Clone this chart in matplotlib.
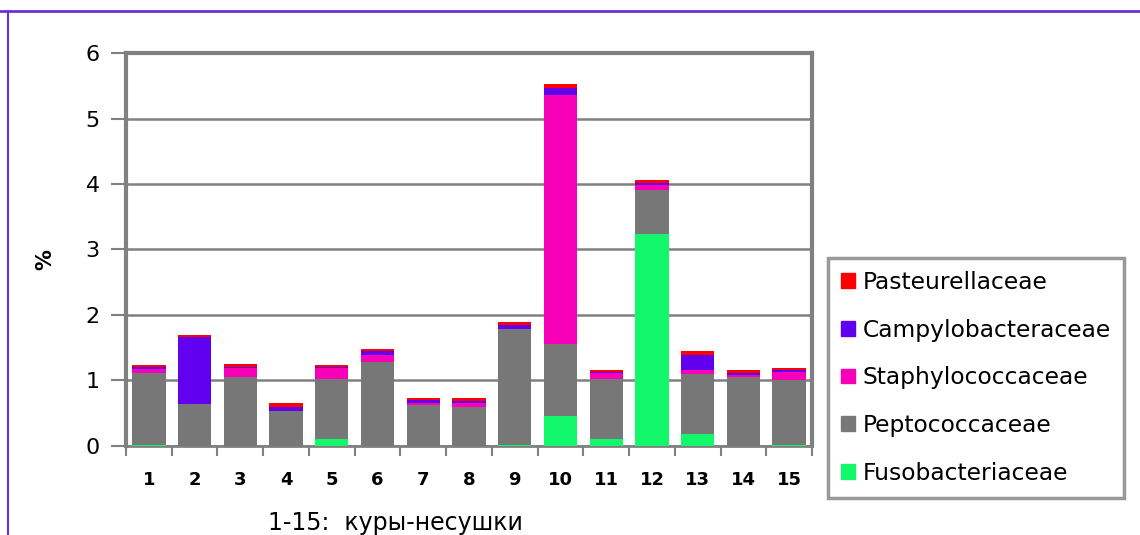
import matplotlib
matplotlib.use('Agg')
import matplotlib.pyplot as plt
from matplotlib.lines import Line2D
from matplotlib.patches import Patch
import numpy as np

# 15 hens, five families stacked (values in %)
hens = [str(i) for i in range(1, 16)]
fuso = [0.02, 0.00, 0.00, 0.00, 0.10, 0.00, 0.00, 0.00, 0.02, 0.46, 0.10, 3.23, 0.19, 0.00, 0.01]
pepto = [1.09, 0.64, 1.06, 0.53, 0.93, 1.28, 0.62, 0.59, 1.76, 1.10, 0.92, 0.68, 0.91, 1.05, 0.99]
staph = [0.06, 0.00, 0.13, 0.01, 0.16, 0.11, 0.04, 0.06, 0.01, 3.80, 0.09, 0.07, 0.06, 0.03, 0.13]
campy = [0.03, 1.03, 0.01, 0.05, 0.01, 0.06, 0.04, 0.04, 0.05, 0.11, 0.02, 0.03, 0.23, 0.03, 0.03]
past = [0.03, 0.02, 0.05, 0.06, 0.03, 0.03, 0.03, 0.04, 0.06, 0.05, 0.03, 0.05, 0.06, 0.05, 0.03]

names = ['Fusobacteriaceae', 'Peptococcaceae', 'Staphylococcaceae',
         'Campylobacteraceae', 'Pasteurellaceae']
colors = ['#12F86A', '#777777', '#F800B8', '#6000EE', '#FF0000']
series = [fuso, pepto, staph, campy, past]

fig = plt.figure(figsize=(11.4, 5.35), dpi=100)
ax = fig.add_axes([0.1105, 0.1664, 0.6018, 0.7345])

x = np.arange(len(hens))
bottom = np.zeros(len(hens))
for vals, c, n in zip(series, colors, names):
    ax.bar(x, vals, 0.73, bottom=bottom, color=c, label=n, zorder=3)
    bottom += np.array(vals)

ax.set_xlim(-0.5, len(hens) - 0.5)
ax.set_ylim(0, 6)
ax.set_yticks(range(0, 7))
ax.grid(axis='y', color='#808080', lw=1.8, zorder=0)

# x ticks sit between categories, labels centred under the bars
ax.set_xticks(np.arange(-0.5, len(hens)), minor=False)
ax.set_xticklabels([])
ax.set_xticks(x, minor=True)
ax.set_xticklabels(hens, minor=True, fontsize=13, fontweight='bold')
ax.tick_params(axis='x', which='minor', length=0, pad=18)
ax.tick_params(axis='x', which='major', length=7, width=1.5, color='#808080')
ax.tick_params(axis='y', length=11, width=1.5, color='#808080', labelsize=16, pad=8)

for s in ['left', 'top', 'right', 'bottom']:
    ax.spines[s].set_color('#808080')
    ax.spines[s].set_linewidth(3)
ax.spines['bottom'].set_linewidth(2)

fig.text(0.0395, 0.514, '%', rotation=90, fontsize=15, fontweight='bold',
         ha='center', va='center')
fig.text(0.347, 0.022, '1-15:  куры-несушки', fontsize=17, ha='center', va='center')

handles = [Patch(color=c) for c in colors][::-1]
leg = fig.legend(handles, names[::-1], loc='upper left',
                 bbox_to_anchor=(828 / 1140, 1 - 258 / 535), fontsize=16.8,
                 handlelength=0.6, handleheight=0.6, handletextpad=0.35,
                 labelspacing=1.06, borderpad=0.55, borderaxespad=0,
                 frameon=True, fancybox=False)
leg.get_frame().set_edgecolor('#808080')
leg.get_frame().set_linewidth(2.5)

# purple frame lines along the top and left edges of the picture
fig.add_artist(Line2D([0, 1], [1 - 10.5 / 535] * 2, color='#6A30D8', lw=2))
fig.add_artist(Line2D([8 / 1140] * 2, [0, 1 - 10.5 / 535], color='#6A30D8', lw=1.5))

fig.savefig('out.png', dpi=100)
